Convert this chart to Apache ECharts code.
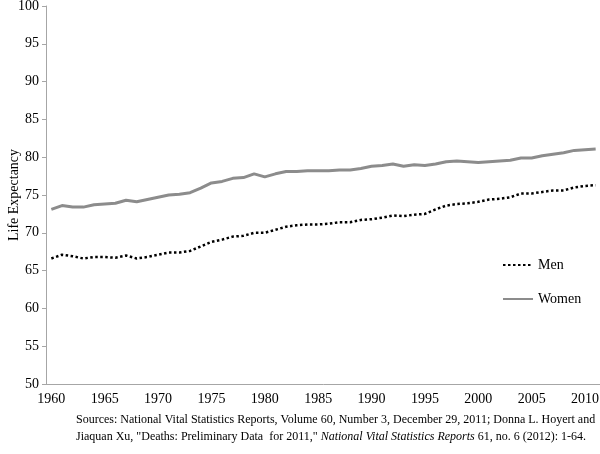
<!DOCTYPE html>
<html>
<head>
<meta charset="utf-8">
<script src="https://cdn.jsdelivr.net/npm/echarts@6/dist/echarts.min.js"></script>
<style>html,body{margin:0;padding:0;background:#fff}#c{width:600px;height:454px}</style>
</head>
<body>
<div id="c"></div>
<script>
const years = [];
for (let y = 1960; y <= 2011; y++) years.push(String(y));
const men = [66.6,67.1,66.9,66.6,66.8,66.8,66.7,67.0,66.6,66.8,
  67.1,67.4,67.4,67.6,68.2,68.8,69.1,69.5,69.6,70.0,
  70.0,70.4,70.8,71.0,71.1,71.1,71.2,71.4,71.4,71.7,
  71.8,72.0,72.3,72.2,72.4,72.5,73.1,73.6,73.8,73.9,
  74.1,74.4,74.5,74.7,75.2,75.2,75.4,75.6,75.6,76.0,
  76.2,76.3];
const women = [73.1,73.6,73.4,73.4,73.7,73.8,73.9,74.3,74.1,74.4,
  74.7,75.0,75.1,75.3,75.9,76.6,76.8,77.2,77.3,77.8,
  77.4,77.8,78.1,78.1,78.2,78.2,78.2,78.3,78.3,78.5,
  78.8,78.9,79.1,78.8,79.0,78.9,79.1,79.4,79.5,79.4,
  79.3,79.4,79.5,79.6,79.9,79.9,80.2,80.4,80.6,80.9,
  81.0,81.1];
const yTicks = {min: 50, max: 100, interval: 5};
const sourceLine1 = 'Sources: National Vital Statistics Reports, Volume 60, Number 3, December 29, 2011; Donna L. Hoyert and';
const sourceLine2a = 'Jiaquan Xu, "Deaths: Preliminary Data  for 2011," ';
const sourceLine2b = 'National Vital Statistics Reports';
const sourceLine2c = ' 61, no. 6 (2012): 1-64.';

const font = '"Liberation Serif", "Times New Roman", serif';
const chart = echarts.init(document.getElementById('c'), null, {renderer: 'canvas'});
chart.setOption({
  animation: false,
  backgroundColor: '#ffffff',
  textStyle: {fontFamily: font},
  title: {
    left: 76, top: 411, padding: 0,
    text: sourceLine1 + '\n' + sourceLine2a + '{i|' + sourceLine2b + '}' + sourceLine2c,
    textStyle: {
      fontFamily: font, fontSize: 12, fontWeight: 'normal', color: '#000', lineHeight: 17,
      rich: {i: {fontStyle: 'italic', fontFamily: font, fontSize: 12, color: '#000', lineHeight: 17}}
    }
  },
  legend: {
    orient: 'vertical', left: 502, top: 258, padding: 0,
    itemWidth: 30, itemHeight: 14, itemGap: 20,
    itemStyle: {opacity: 0},
    textStyle: {fontFamily: font, fontSize: 14, color: '#000'},
    data: ['Men', 'Women']
  },
  grid: {left: 46, top: 6, width: 555, height: 378, containLabel: false, outerBoundsMode: 'none'},
  xAxis: {
    type: 'category', data: years, boundaryGap: true,
    axisLine: {lineStyle: {color: '#a6a6a6', width: 1}},
    axisTick: {interval: 4, length: 4, lineStyle: {color: '#a6a6a6'}},
    axisLabel: {interval: 4, margin: 8, fontFamily: font, fontSize: 14, color: '#000'},
    splitLine: {show: false}
  },
  yAxis: {
    type: 'value', min: yTicks.min, max: yTicks.max, interval: yTicks.interval,
    name: 'Life Expectancy', nameLocation: 'middle', nameGap: 25, nameRotate: 90,
    nameMoveOverlap: false,
    nameTextStyle: {fontFamily: font, fontSize: 14, color: '#000'},
    axisLine: {show: true, lineStyle: {color: '#a6a6a6', width: 1}},
    axisTick: {show: true, length: 4, lineStyle: {color: '#a6a6a6'}},
    axisLabel: {margin: 7, fontFamily: font, fontSize: 14, color: '#000'},
    splitLine: {show: false}
  },
  series: [
    {name: 'Men', type: 'line', data: men, symbol: 'none', color: '#000',
     lineStyle: {color: '#000', width: 2.5, type: [2.5, 2.5]}},
    {name: 'Women', type: 'line', data: women, symbol: 'none', color: '#8c8c8c',
     lineStyle: {color: '#8c8c8c', width: 3, type: 'solid'}}
  ]
});
</script>
</body>
</html>
